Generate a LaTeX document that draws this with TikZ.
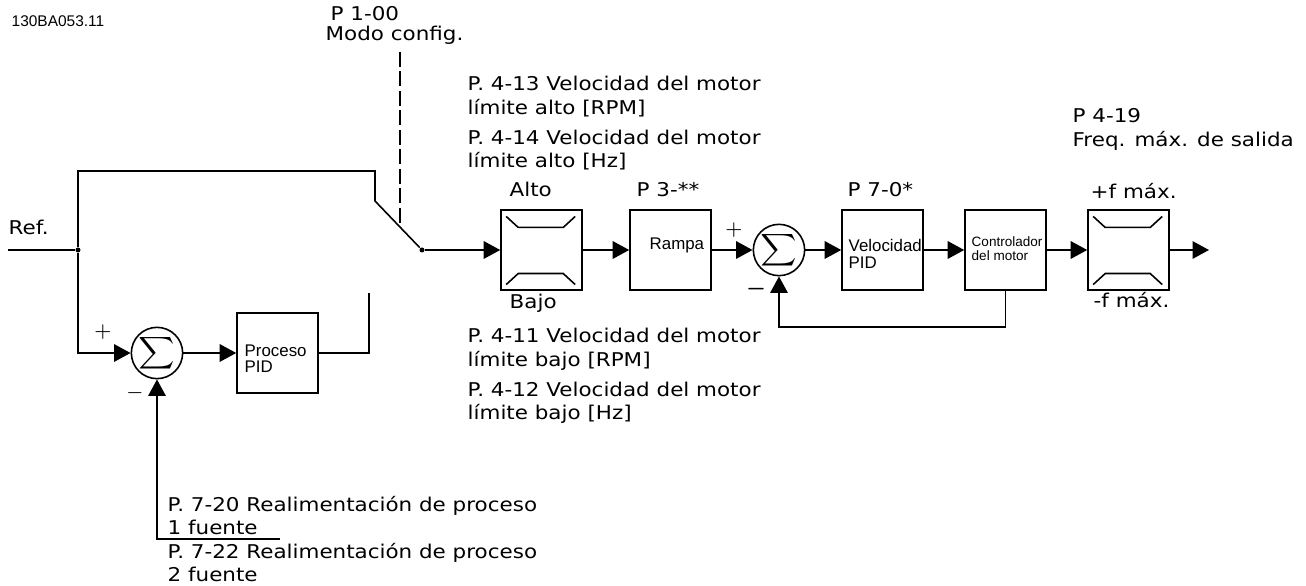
\documentclass[tikz,border=0pt]{standalone}
\usepackage{amsmath}
\usepackage{fontspec}
\setmainfont[FakeStretch=1.13]{DejaVu Sans}
\newfontfamily\codefont{Liberation Sans}
\usetikzlibrary{arrows.meta,calc}
\tikzset{
    blk/.style={draw,line width=0.45pt,inner sep=0,minimum width=8.1mm,minimum height=7.95mm},
    sumnode/.style={draw,circle,line width=0.45pt,inner sep=0,minimum size=4.9mm,font=\fontsize{6.4}{7}\selectfont},
    dotnode/.style={fill,circle,inner sep=0,minimum size=0.5mm},
    txt/.style={anchor=base west,inner sep=0,font=\fontsize{5.4}{7}\selectfont},
    boxtxt/.style={anchor=base west,inner sep=0,font=\codefont\fontsize{4.8}{6}\selectfont},
    smalltxt/.style={anchor=base west,inner sep=0,font=\codefont\fontsize{3.85}{5}\selectfont},
    signtxt/.style={inner sep=0,font=\fontsize{5}{6}\selectfont},
    line/.style={line width=0.45pt},
    arr/.style={line width=0.45pt,-{Triangle[length=1.65mm,width=1.75mm]}}
}
\begin{document}
\begin{tikzpicture}[x=0.1mm,y=-0.1mm]
    \useasboundingbox (0,0) rectangle (1306,586);
    % blocks
    \node[blk] (lima) at (541.5,250) {};
    \node[blk] (rampa) at (670.5,250) {};
    \node[sumnode] (suma) at (779,250) {$\displaystyle\sum$};
    \node[blk] (vel) at (882.5,250) {};
    \node[blk] (ctrl) at (1005.5,250) {};
    \node[blk] (limb) at (1128.5,250) {};
    \node[sumnode] (sumb) at (157,353) {$\displaystyle\sum$};
    \node[blk] (proc) at (277.5,353) {};
    % limiter marks
    \foreach \b in {lima,limb} {
        \draw[line] ($(\b.north west)+(6,7)$) -- ++(12,11) -- ++(45,0) -- ++(12,-11);
        \draw[line] ($(\b.south west)+(6,-6)$) -- ++(12,-11) -- ++(45,0) -- ++(12,11);
    }
    % free ends and junctions
    \coordinate (refin) at (8,250);
    \node[dotnode] (jref) at (78,250) {};
    \node[dotnode] (jsw) at (422,250) {};
    \coordinate (topr) at (375,171);
    \coordinate (swa) at (375,201);
    \coordinate (dasha) at (400,52);
    \coordinate (dashb) at (400,226);
    \coordinate (procup) at (369,293);
    \coordinate (out) at (1209,250);
    \coordinate (fbend) at (280,539);
    % connectors
    \draw[line] (refin) -- (jref);
    \draw[line] (jref) |- (topr) -- (swa) -- (jsw);
    \draw[line,dash pattern=on 1.5mm off 0.45mm] (dasha) -- (dashb);
    \draw[arr] (jsw) -- (lima);
    \draw[arr] (lima) -- (rampa);
    \draw[arr] (rampa) -- (suma);
    \draw[arr] (suma) -- (vel);
    \draw[arr] (vel) -- (ctrl);
    \draw[arr] (ctrl) -- (limb);
    \draw[arr] (limb) -- (out);
    \draw[arr] (ctrl.south) |- (779,327) -- (suma.south);
    \draw[arr] (jref) |- (sumb);
    \draw[arr] (sumb) -- (proc);
    \draw[line] (proc) -| (procup);
    \draw[arr] (fbend) -| (sumb.south);
    % labels
    \node[anchor=base west,inner sep=0,font=\codefont\fontsize{4.4}{6}\selectfont] (code) at (11,27) {130BA053.11};
    \node[txt] (pmodo) at (330,21) {P 1-00};
    \node[txt] (modo) at (325,41) {Modo config.};
    \node[txt] (ref) at (8,235) {Ref.};
    \node[txt] (p413) at (467,91) {P. 4-13 Velocidad del motor};
    \node[txt] (p413b) at (467,115) {límite alto [RPM]};
    \node[txt] (p414) at (467,145) {P. 4-14 Velocidad del motor};
    \node[txt] (p414b) at (467,168) {límite alto [Hz]};
    \node[txt] (alto) at (509,197) {Alto};
    \node[txt] (p3) at (636,197) {P 3-**};
    \node[txt] (p7) at (847,197) {P 7-0*};
    \node[txt] (bajo) at (509,309) {Bajo};
    \node[txt] (p411) at (467,343) {P. 4-11 Velocidad del motor};
    \node[txt] (p411b) at (467,367) {límite bajo [RPM]};
    \node[txt] (p412) at (467,397) {P. 4-12 Velocidad del motor};
    \node[txt] (p412b) at (467,420) {límite bajo [Hz]};
    \node[txt] (p419) at (1072,123) {P 4-19};
    \node[txt] (freq) at (1072,147) {Freq. máx. de salida};
    \node[txt] (fmax) at (1090,199) {+f máx.};
    \node[txt] (fmin) at (1093,308) {-f máx.};
    \node[txt] (p720) at (167,512) {P. 7-20 Realimentación de proceso};
    \node[txt] (p720b) at (167,535) {1 fuente};
    \node[txt] (p722) at (167,559) {P. 7-22 Realimentación de proceso};
    \node[txt] (p722b) at (167,582) {2 fuente};
    \node[boxtxt] (trampa) at (649,250) {Rampa};
    \node[boxtxt] (tvel) at (848,252) {Velocidad};
    \node[boxtxt] (tvelb) at (848,269) {PID};
    \node[smalltxt] (tctrl) at (971,247) {Controlador};
    \node[smalltxt] (tctrlb) at (971,261) {del motor};
    \node[boxtxt] (tproc) at (244,357) {Proceso};
    \node[boxtxt] (tprocb) at (244,373) {PID};
    \node[signtxt] (pa) at (734,230) {$+$};
    \node[signtxt] (ma) at (756,289) {$\boldsymbol{-}$};
    \node[signtxt] (pb) at (103,332) {$+$};
    \node[signtxt] (mb) at (135,393) {$-$};
\end{tikzpicture}
\end{document}
